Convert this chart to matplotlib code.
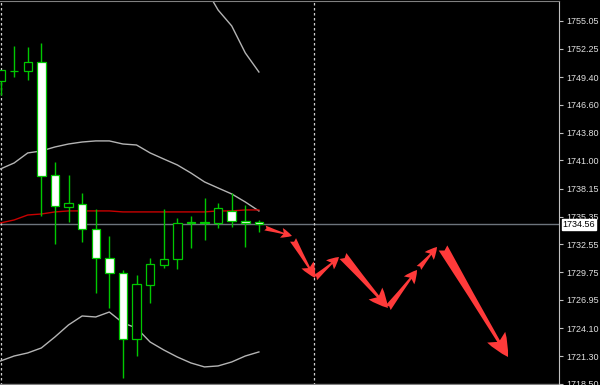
import numpy as np
import matplotlib
matplotlib.use('Agg')
import matplotlib.pyplot as plt
from matplotlib.transforms import blended_transform_factory

# candle data
opens  = [1749.01, 1750.01, 1750.01, 1750.92, 1739.54, 1736.32, 1736.62, 1734.10, 1731.18, 1729.67,
          1723.03, 1728.46, 1730.48, 1731.08, 1734.71, 1734.71, 1734.71, 1735.92, 1734.91, 1734.81]
highs  = [1750.12, 1752.53, 1752.43, 1752.83, 1740.85, 1739.54, 1737.73, 1736.12, 1733.40, 1729.97,
          1729.47, 1731.18, 1736.12, 1735.21, 1735.41, 1737.23, 1736.72, 1737.73, 1736.52, 1735.01]
lows   = [1747.60, 1749.41, 1749.11, 1735.41, 1732.59, 1734.81, 1732.79, 1727.66, 1726.15, 1719.10,
          1721.31, 1726.65, 1730.18, 1730.08, 1732.19, 1733.00, 1734.20, 1734.30, 1732.29, 1733.80]
closes = [1750.12, 1750.01, 1750.92, 1739.44, 1736.42, 1736.72, 1734.10, 1731.18, 1729.67, 1723.03,
          1728.57, 1730.58, 1731.08, 1734.71, 1734.81, 1734.81, 1736.22, 1734.91, 1734.71, 1734.56]

# bollinger bands and moving average
bb_upper = [1759.49, 1760.19, 1761.90, 1761.80, 1761.49, 1760.88, 1760.38, 1760.70, 1760.20, 1760.68,
            1760.99, 1760.80, 1760.38, 1759.89, 1759.60, 1758.50, 1756.15, 1754.55, 1751.83, 1749.91]
bb_mid   = [1740.15, 1740.75, 1741.76, 1741.96, 1742.36, 1742.66, 1742.86, 1742.97, 1742.97, 1742.66,
            1742.56, 1741.76, 1741.15, 1740.55, 1739.74, 1738.84, 1738.23, 1737.63, 1736.82, 1735.92]
bb_lower = [1720.81, 1721.31, 1721.62, 1722.12, 1723.23, 1724.44, 1725.34, 1725.24, 1725.74, 1724.64,
            1724.13, 1722.72, 1721.92, 1721.21, 1720.61, 1720.21, 1720.31, 1720.71, 1721.31, 1721.72]
ma_red   = [1734.71, 1735.01, 1735.51, 1735.61, 1735.82, 1735.92, 1735.92, 1735.92, 1735.92, 1735.82,
            1735.82, 1735.82, 1735.82, 1735.82, 1735.82, 1735.82, 1735.92, 1735.92, 1736.02, 1736.02]

last_price = 1734.56
separators = [0, 23]

# forecast arrows: (start bar, start price, end bar, end price)
arrow_x0 = [19.45, 21.51, 23.13, 25.18, 28.49, 30.77, 32.54]
arrow_y0 = [1734.20, 1733.00, 1729.17, 1731.38, 1726.15, 1730.18, 1732.19]
arrow_x1 = [21.43, 23.13, 24.89, 28.49, 30.63, 32.10, 37.32]
arrow_y1 = [1733.40, 1729.17, 1731.28, 1726.15, 1729.97, 1732.29, 1721.21]

yticks = [1755.05, 1752.25, 1749.40, 1746.60, 1743.80, 1741.00, 1738.15,
          1735.35, 1732.55, 1729.75, 1726.95, 1724.10, 1721.30, 1718.50]

green = '#00c800'
fig = plt.figure(figsize=(6, 3.85), dpi=100, facecolor='black')
ax = fig.add_axes([0, 0, 559 / 600, 384 / 385])
ax.set_facecolor('black')

x = np.arange(len(opens))
o = np.array(opens); c = np.array(closes)

# bands + MA
ax.plot(x, bb_upper, color='#b4b4b4', lw=1, zorder=2)
ax.plot(x, bb_mid, color='#b4b4b4', lw=1, zorder=2)
ax.plot(x, bb_lower, color='#b4b4b4', lw=1, zorder=2)
ax.plot(x, ma_red, color='#c80000', lw=1, zorder=2)

# candles
ax.vlines(x, lows, highs, color=green, lw=1, zorder=3)
fills = np.where(c < o, 'white', 'black')
ax.bar(x, c - o, bottom=o, width=0.62, color=fills, edgecolor=green, linewidth=0.9, zorder=4)

# price line and separators
ax.axhline(last_price, color='#6c747c', lw=1, zorder=1)
for s in separators:
    ax.axvline(s + 0.04, color='#d0d0d0', lw=0.9, ls=(0, (2, 2)), zorder=1)

# arrows
head_w = [10, 14, 12, 18, 13, 12, 21]
head_l = [11, 15, 12, 19, 13, 12, 23]
tail_w = [5, 7, 6, 9, 7, 6, 10]
for i in range(len(arrow_x0)):
    style = 'fancy,head_length=%.1f,head_width=%.1f,tail_width=%.1f' % (
        head_l[i] * 0.72, head_w[i] * 0.72, tail_w[i] * 0.72)
    ax.annotate('', xy=(arrow_x1[i], arrow_y1[i]), xytext=(arrow_x0[i], arrow_y0[i]),
                arrowprops=dict(arrowstyle=style, mutation_scale=1, color='#ff3a3a',
                                lw=0, shrinkA=0, shrinkB=0), zorder=5)

ax.set_xlim(-0.04, 41.07)
ax.set_ylim(1718.39, 1757.06)

ax.yaxis.tick_right()
ax.set_yticks(yticks)
ax.set_yticklabels(['%.2f' % v for v in yticks], fontfamily='Liberation Sans')
ax.tick_params(axis='y', length=3, color='#c0c0c0', labelcolor='#e0e0e0', labelsize=6.5, pad=2)
ax.set_xticks([])

for side in ['left', 'bottom']:
    ax.spines[side].set_visible(False)
ax.spines['right'].set_color('#c0c0c0')
ax.spines['top'].set_color('#808080')
ax.plot([0, 1], [1.5 / 384, 1.5 / 384], transform=ax.transAxes, color='#808080', lw=1, clip_on=False)

trans = blended_transform_factory(ax.transAxes, ax.transData)
ax.text(1.006, last_price, '%.2f' % last_price, transform=trans, ha='left', va='center',
        fontsize=6.5, fontfamily='Liberation Sans', color='black',
        bbox=dict(facecolor='white', edgecolor='white', pad=0.5), zorder=6)

fig.savefig('out.png', dpi=100, facecolor='black')
